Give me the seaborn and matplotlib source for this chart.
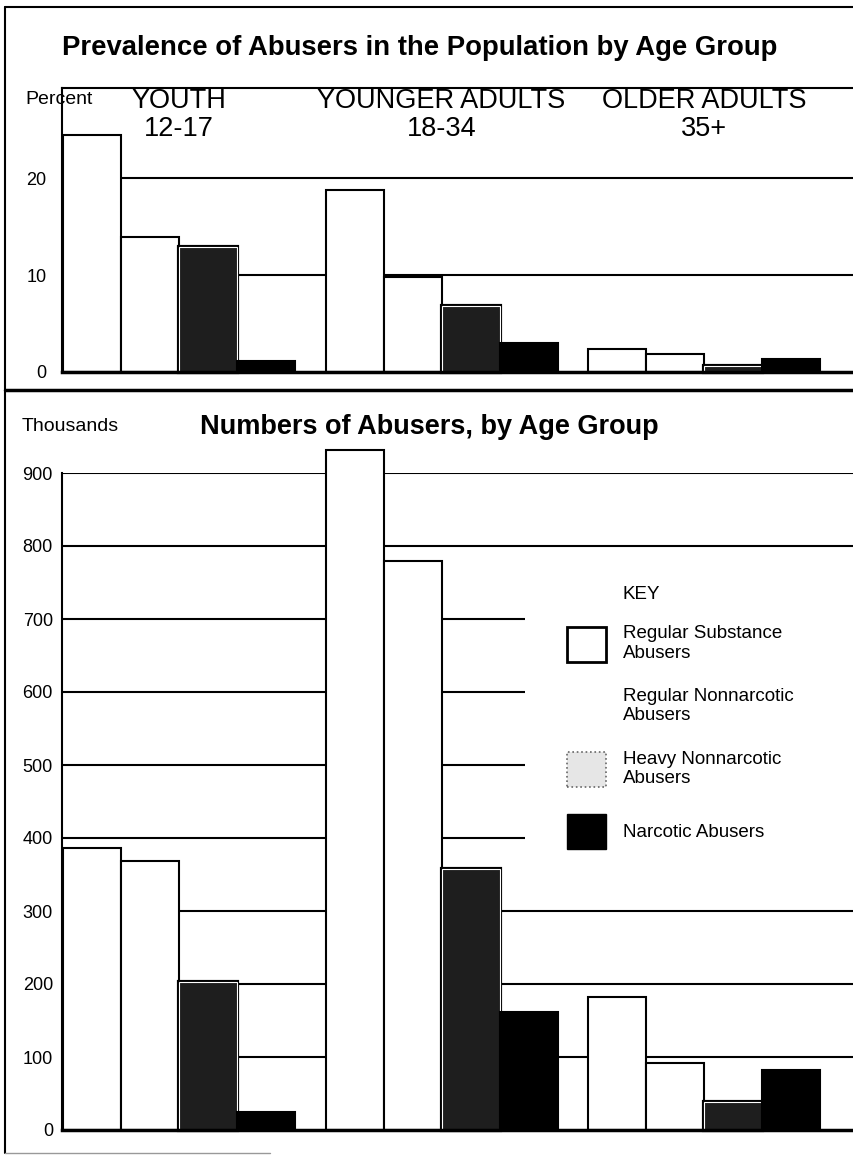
"""
Prevalence and numbers of abusers by age group (two stacked bar panels).
"""

import pandas as pd
import matplotlib
matplotlib.use('Agg')
import matplotlib.pyplot as plt
import matplotlib.patheffects as pe
from matplotlib.patches import Patch, Rectangle
from matplotlib.lines import Line2D
import seaborn as sns

sns.set_style("white")
plt.rcParams['font.family'] = ['Liberation Sans', 'DejaVu Sans']
plt.rcParams['text.color'] = 'black'
plt.rcParams['ytick.color'] = 'black'
plt.rcParams['ytick.labelcolor'] = 'black'

# Data
age_groups = ['YOUTH\n12-17', 'YOUNGER ADULTS\n18-34', 'OLDER ADULTS\n35+']
series = ['Regular Substance\nAbusers', 'Regular Nonnarcotic\nAbusers',
          'Heavy Nonnarcotic\nAbusers', 'Narcotic Abusers']

# percent of population
regular_substance_pct = [24.5, 18.8, 2.4]
regular_nonnarcotic_pct = [13.9, 9.8, 1.9]
heavy_nonnarcotic_pct = [12.9, 6.8, 0.6]
narcotic_pct = [1.1, 3.0, 1.3]

# thousands of people
regular_substance_k = [386, 931, 182]
regular_nonnarcotic_k = [368, 779, 92]
heavy_nonnarcotic_k = [203, 358, 38]
narcotic_k = [25, 161, 82]

pct_ticks = [0, 10, 20]
k_ticks = [0, 100, 200, 300, 400, 500, 600, 700, 800, 900]

fills = ['white', 'white', '#1e1e1e', 'black']

W, H = 854, 1156


def to_long(cols):
    rows = []
    for s, vals in zip(series, cols):
        for g, v in zip(age_groups, vals):
            rows.append({'group': g, 'series': s, 'value': v})
    return pd.DataFrame(rows)


def draw_panel(ax, df, ymax, ticks, top_spine, pad):
    for t in ticks[1:]:
        ax.axhline(t, color='black', lw=1.5, zorder=0)
    sns.barplot(data=df, x='group', y='value', hue='series', order=age_groups,
                hue_order=series, palette=dict(zip(series, fills)), saturation=1,
                width=0.885, gap=0, dodge=True, errorbar=None, edgecolor='black',
                linewidth=1.5, legend=False, ax=ax, zorder=2)
    for i, cont in enumerate(ax.containers):
        for bar in cont:
            bar.set_clip_on(False)
            if i == 2:
                bar.set_edgecolor('white')
                bar.set_linewidth(0.8)
                bar.set_path_effects([pe.Stroke(linewidth=3, foreground='black'),
                                      pe.Normal()])
    ax.set_xlim(-0.447, 2.572)
    ax.set_ylim(0, ymax)
    ax.set_xticks([])
    ax.set_xlabel('')
    ax.set_ylabel('')
    ax.set_yticks(ticks)
    ax.set_yticklabels([str(t) for t in ticks])
    ax.tick_params(axis='y', length=0, pad=pad, labelsize=13)
    ax.grid(False)
    ax.spines['right'].set_visible(False)
    ax.spines['top'].set_visible(top_spine)
    ax.spines['top'].set_linewidth(1.5)
    ax.spines['left'].set_linewidth(1.5)
    ax.spines['bottom'].set_linewidth(2.5)
    for sp in ax.spines.values():
        sp.set_color('black')


fig = plt.figure(figsize=(W / 100, H / 100), dpi=100)

# Top panel: percent
ax1 = fig.add_axes([62 / W, 1 - 372 / H, 1 - 62 / W, (372 - 88) / H])
draw_panel(ax1, to_long([regular_substance_pct, regular_nonnarcotic_pct,
                         heavy_nonnarcotic_pct, narcotic_pct]),
           29.3, pct_ticks, True, 11)
for i, g in enumerate(age_groups):
    ax1.text(i, 26.5, g, ha='center', va='center', fontsize=19.5, linespacing=1.1)

# Bottom panel: thousands
ax2 = fig.add_axes([62 / W, 1 - 1130 / H, 1 - 62 / W, (1130 - 473) / H])
draw_panel(ax2, to_long([regular_substance_k, regular_nonnarcotic_k,
                         heavy_nonnarcotic_k, narcotic_k]),
           900, k_ticks, False, 6.5)

# Titles and axis captions
fig.text(62 / W, 1 - 48 / H, 'Prevalence of Abusers in the Population by Age Group',
         fontsize=19.8, fontweight='bold', ha='left', va='center')
fig.text(25 / W, 1 - 100 / H, 'Percent', fontsize=14, ha='left', va='center')
fig.text(200 / W, 1 - 427 / H, 'Numbers of Abusers, by Age Group',
         fontsize=19.5, fontweight='bold', ha='left', va='center')
fig.text(22 / W, 1 - 427 / H, 'Thousands', fontsize=14, ha='left', va='center')

# Key: white block hides the gridlines behind it
fig.add_artist(Rectangle((525 / W, 1 - 880 / H), 329 / W, 325 / H,
                         transform=fig.transFigure, facecolor='white',
                         edgecolor='none', zorder=1))
fig.text(623 / W, 1 - 595 / H, 'KEY', fontsize=13.5, ha='left', va='center', zorder=6)
handles = [
    Patch(facecolor='white', edgecolor='black', linewidth=2),
    Patch(facecolor='white', edgecolor='none'),
    Patch(facecolor='#e6e6e6', edgecolor='#666666', linewidth=1.2, linestyle=':'),
    Patch(facecolor='black', edgecolor='black'),
]
leg = fig.legend(handles, series, loc='upper left',
                 bbox_to_anchor=(567 / W, 1 - 625 / H), frameon=False,
                 fontsize=13.5, handlelength=2.1, handleheight=2.5,
                 handletextpad=0.9, labelspacing=1.4, borderpad=0,
                 borderaxespad=0)
leg.set_zorder(6)

# Outer frame and panel separator
frame = dict(color='black', transform=fig.transFigure)
fig.add_artist(Line2D([5 / W, 5 / W], [1 - 7 / H, 1 - 1153 / H], lw=1.5, **frame))
fig.add_artist(Line2D([5 / W, 1], [1 - 7 / H, 1 - 7 / H], lw=1.5, **frame))
fig.add_artist(Line2D([5 / W, 1], [1 - 390 / H, 1 - 390 / H], lw=2.5, **frame))
fig.add_artist(Line2D([5 / W, 270 / W], [1 - 1153 / H, 1 - 1153 / H], lw=1,
                      color='#999999', transform=fig.transFigure))

plt.savefig('out.png', dpi=100)
plt.close()
